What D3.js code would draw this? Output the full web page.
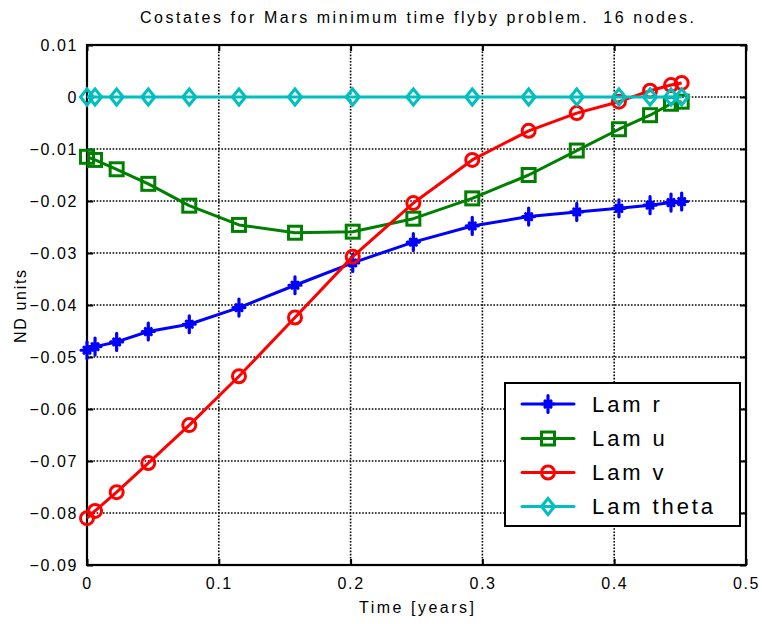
<!DOCTYPE html>
<html>
<head>
<meta charset="utf-8">
<script src="https://cdn.jsdelivr.net/npm/d3@7"></script>
<style>
  html, body { margin: 0; padding: 0; background: #fff; }
  svg { display: block; }
  text { fill: #000; white-space: pre; }
</style>
</head>
<body>
<svg id="chart" width="762" height="624"></svg>
<script>
// Collocation node times (years)
const time = [0, 0.0061, 0.0225, 0.0465, 0.0776, 0.1153, 0.1578, 0.2016,
              0.2476, 0.2923, 0.3351, 0.3716, 0.4036, 0.4272, 0.4431, 0.4512];

// Costate values at each node (ND units)
const lamR = [-0.0487, -0.0480, -0.0471, -0.0451, -0.0437, -0.0405, -0.0362, -0.0319,
              -0.0279, -0.0248, -0.0230, -0.0221, -0.0214, -0.0208, -0.0203, -0.0201];
const lamU = [-0.0115, -0.0121, -0.0139, -0.0167, -0.0209, -0.0246, -0.0261, -0.0259,
              -0.0234, -0.0195, -0.0150, -0.0103, -0.0062, -0.0035, -0.0013, -0.0009];
const lamV = [-0.0810, -0.0796, -0.0760, -0.0704, -0.0631, -0.0537, -0.0424, -0.0307,
              -0.0204, -0.0121, -0.0065, -0.0031, -0.0009, 0.0012, 0.0023, 0.0027];
const lamTheta = [0, 0, 0, 0, 0, 0, 0, 0, 0, 0, 0, 0, 0, 0, 0, 0];

const seriesNames = ["Lam r", "Lam u", "Lam v", "Lam theta"];
const xTicks = [0, 0.1, 0.2, 0.3, 0.4, 0.5];
const yTicks = [0.01, 0, -0.01, -0.02, -0.03, -0.04, -0.05, -0.06, -0.07, -0.08, -0.09];

const series = [
  { name: seriesNames[0], values: lamR,     color: "#0000ff", marker: "star" },
  { name: seriesNames[1], values: lamU,     color: "#008000", marker: "square" },
  { name: seriesNames[2], values: lamV,     color: "#ff0000", marker: "circle" },
  { name: seriesNames[3], values: lamTheta, color: "#00bfbf", marker: "diamond" }
];

const svg = d3.select("#chart");
const plotLeft = 87, plotRight = 746, plotTop = 45, plotBottom = 565;

const x = d3.scaleLinear().domain([0, 0.5]).range([plotLeft, plotRight]);
const y = d3.scaleLinear().domain([-0.09, 0.01]).range([plotBottom, plotTop]);

const font = "Liberation Sans, Arial, sans-serif";

// Dotted grid
const grid = svg.append("g");
xTicks.filter(t => t > 0 && t < 0.5).forEach(t => {
  grid.append("line")
    .attr("x1", x(t)).attr("x2", x(t)).attr("y1", plotTop).attr("y2", plotBottom)
    .attr("stroke", "#000").attr("stroke-width", 1.6).attr("stroke-dasharray", "1.6,1.6");
});
yTicks.filter(t => t < 0.0099 && t > -0.0899).forEach(t => {
  grid.append("line")
    .attr("x1", plotLeft).attr("x2", plotRight).attr("y1", y(t)).attr("y2", y(t))
    .attr("stroke", "#000").attr("stroke-width", 1.6).attr("stroke-dasharray", "1.6,1.6");
});

// Axes with inward ticks on all four sides
const fmtX = d => d === 0 ? "0" : d3.format(".1f")(d);
const fmtY = d => Math.abs(d) < 1e-12 ? "0" : d3.format(".2f")(d);

const axB = svg.append("g").attr("transform", `translate(0,${plotBottom})`)
  .call(d3.axisBottom(x).tickValues(xTicks).tickFormat(fmtX).tickSizeInner(-6).tickSizeOuter(0).tickPadding(13));
const axT = svg.append("g").attr("transform", `translate(0,${plotTop})`)
  .call(d3.axisTop(x).tickValues(xTicks).tickFormat("").tickSizeInner(-6).tickSizeOuter(0));
const axL = svg.append("g").attr("transform", `translate(${plotLeft},0)`)
  .call(d3.axisLeft(y).tickValues(yTicks).tickFormat(fmtY).tickSizeInner(-6).tickSizeOuter(0).tickPadding(9));
const axR = svg.append("g").attr("transform", `translate(${plotRight},0)`)
  .call(d3.axisRight(y).tickValues(yTicks).tickFormat("").tickSizeInner(-6).tickSizeOuter(0));

[axB, axT, axL, axR].forEach(a => {
  a.select(".domain").remove();
  a.selectAll(".tick line").attr("stroke", "#000").attr("stroke-width", 2);
  a.selectAll("text").attr("font-family", font).attr("font-size", 16)
    .attr("letter-spacing", 1.6).attr("fill", "#000");
});
axB.selectAll("text").attr("dy", "0.71em");

// Frame
svg.append("rect")
  .attr("x", plotLeft).attr("y", plotTop).attr("width", plotRight - plotLeft).attr("height", plotBottom - plotTop)
  .attr("fill", "none").attr("stroke", "#000").attr("stroke-width", 2.2);

// Marker drawing
function drawMarker(g, type, cx, cy, color) {
  if (type === "star") {
    const a = 8.5, d = 3;
    const p = `M${cx},${cy - a}V${cy + a}M${cx - 6},${cy}H${cx + 6}` +
              `M${cx - d},${cy - d}L${cx + d},${cy + d}M${cx - d},${cy + d}L${cx + d},${cy - d}`;
    g.append("path").attr("d", p).attr("stroke", color).attr("stroke-width", 3.2)
      .attr("fill", "none").attr("stroke-linecap", "round");
  } else if (type === "square") {
    g.append("rect").attr("x", cx - 6.5).attr("y", cy - 6.5).attr("width", 13).attr("height", 13)
      .attr("fill", "none").attr("stroke", color).attr("stroke-width", 3);
  } else if (type === "circle") {
    g.append("circle").attr("cx", cx).attr("cy", cy).attr("r", 6.5)
      .attr("fill", "none").attr("stroke", color).attr("stroke-width", 3);
  } else if (type === "diamond") {
    const w = 6.5, h = 8;
    g.append("path").attr("d", `M${cx},${cy - h}L${cx + w},${cy}L${cx},${cy + h}L${cx - w},${cy}Z`)
      .attr("fill", "none").attr("stroke", color).attr("stroke-width", 3)
      .attr("stroke-linejoin", "miter");
  }
}

// Series lines and node markers
const line = d3.line().x(d => x(d[0])).y(d => y(d[1])).curve(d3.curveLinear);
series.forEach(s => {
  const pts = time.map((t, i) => [t, s.values[i]]);
  const g = svg.append("g");
  g.append("path").datum(pts).attr("d", line)
    .attr("fill", "none").attr("stroke", s.color).attr("stroke-width", 3)
    .attr("stroke-linejoin", "round");
  pts.forEach(p => drawMarker(g, s.marker, x(p[0]), y(p[1]), s.color));
});

// Legend
const lg = svg.append("g");
lg.append("rect").attr("x", 505).attr("y", 383).attr("width", 235).attr("height", 143)
  .attr("fill", "#fff").attr("stroke", "#000").attr("stroke-width", 2);
const rowY = [404, 438.5, 472.5, 506.5];
series.forEach((s, i) => {
  lg.append("line").attr("x1", 522).attr("x2", 574).attr("y1", rowY[i]).attr("y2", rowY[i])
    .attr("stroke", s.color).attr("stroke-width", 3).attr("stroke-linecap", "round");
  drawMarker(lg, s.marker, 548, rowY[i], s.color);
  lg.append("text").attr("x", 592).attr("y", rowY[i]).attr("dy", "0.36em")
    .attr("font-family", font).attr("font-size", 22).attr("letter-spacing", 2.9)
    .text(s.name);
});

// Titles
svg.append("text").attr("x", 417).attr("y", 23).attr("text-anchor", "middle")
  .attr("font-family", font).attr("font-size", 16)
  .attr("textLength", 554).attr("lengthAdjust", "spacing")
  .text("Costates for Mars minimum time flyby problem.  16 nodes.");
svg.append("text").attr("x", 416.5).attr("y", 613).attr("text-anchor", "middle")
  .attr("font-family", font).attr("font-size", 16)
  .attr("textLength", 115).attr("lengthAdjust", "spacing")
  .text("Time [years]");
svg.append("text").attr("transform", "translate(25.5,306.5) rotate(-90)").attr("text-anchor", "middle")
  .attr("font-family", font).attr("font-size", 16)
  .attr("textLength", 73).attr("lengthAdjust", "spacing")
  .text("ND units");
</script>
</body>
</html>
